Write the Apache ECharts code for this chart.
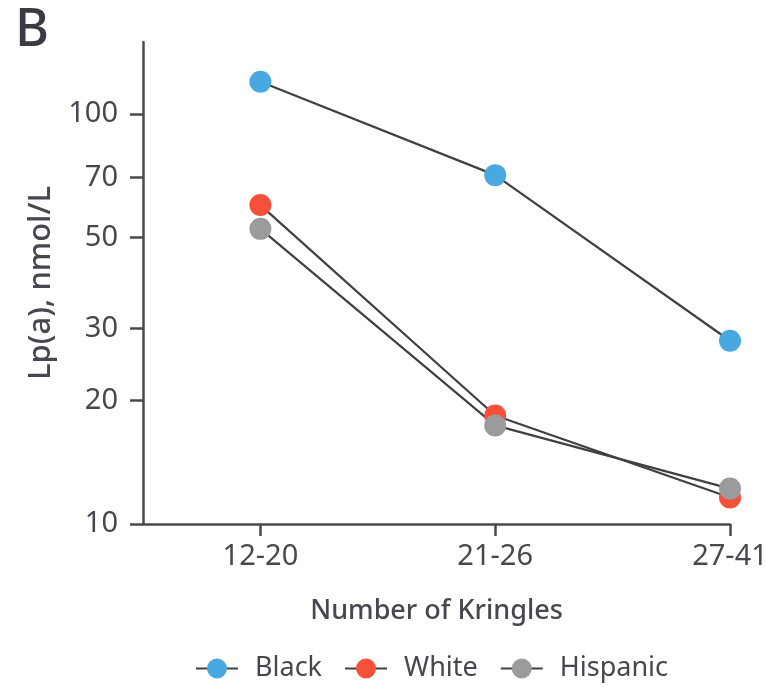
<!DOCTYPE html>
<html>
<head>
<meta charset="utf-8">
<script src="https://cdn.jsdelivr.net/npm/echarts@6/dist/echarts.min.js"></script>
<style>
  html, body { margin: 0; padding: 0; background: #fff; }
  #chart { width: 766px; height: 687px; }
</style>
</head>
<body>
<div id="chart"></div>
<script>
// Kringle-number groups on the x axis
const categories = ['12-20', '21-26', '27-41'];
// Median Lp(a), nmol/L, per group
const blackValues = [120, 71, 28];
const whiteValues = [60, 18.4, 11.6];
const hispanicValues = [52.5, 17.4, 12.2];
// Log-axis tick labels
const yTicks = [10, 20, 30, 50, 70, 100];

const FONT = 'Noto Sans';
const AXIS_COLOR = '#4a4a4a';
const TEXT_COLOR = '#474750';

function toPoints(values) {
  return values.map((v, i) => [i, v]);
}

function makeSeries(name, values, color) {
  return {
    name: name,
    type: 'line',
    data: toPoints(values),
    symbol: 'circle',
    symbolSize: 22,
    itemStyle: { color: color },
    lineStyle: { color: '#404040', width: 2.2 },
    emphasis: { disabled: true }
  };
}

const chart = echarts.init(document.getElementById('chart'));
chart.setOption({
  animation: false,
  textStyle: { fontFamily: FONT },
  title: {
    text: 'B',
    left: 10,
    top: 0,
    textStyle: { fontSize: 52, fontWeight: 500, color: '#3a3a44', fontFamily: FONT }
  },
  grid: { left: 143, top: 42, right: 36, bottom: 163, containLabel: false, outerBoundsMode: 'none' },
  xAxis: {
    type: 'value',
    min: -0.5,
    max: 2,
    splitLine: { show: false },
    axisLine: { lineStyle: { color: AXIS_COLOR, width: 2.5 } },
    axisTick: { customValues: [0, 1, 2], length: 12, lineStyle: { color: AXIS_COLOR, width: 2.5 } },
    axisLabel: {
      customValues: [0, 1, 2],
      formatter: v => categories[Math.round(v)],
      fontSize: 29, color: TEXT_COLOR, margin: 18, fontFamily: FONT
    },
    name: 'Number of Kringles',
    nameLocation: 'middle',
    nameGap: 74,
    nameTextStyle: { fontSize: 27, color: TEXT_COLOR, fontFamily: FONT, fontWeight: 500 }
  },
  yAxis: {
    type: 'log',
    logBase: 10,
    min: 10,
    max: 150,
    splitLine: { show: false },
    axisLine: { show: true, onZero: false, lineStyle: { color: AXIS_COLOR, width: 2.5 } },
    axisTick: { show: true, customValues: yTicks, length: 13, lineStyle: { color: AXIS_COLOR, width: 2.5 } },
    axisLabel: {
      customValues: yTicks,
      fontSize: 29, color: TEXT_COLOR, margin: 25, fontFamily: FONT
    },
    name: 'Lp(a), nmol/L',
    nameLocation: 'middle',
    nameGap: 86,
    nameTextStyle: { fontSize: 31, color: TEXT_COLOR, fontFamily: FONT, fontWeight: 500 }
  },
  legend: {
    bottom: 0,
    left: 190,
    itemWidth: 42,
    itemHeight: 25,
    itemGap: 22,
    textStyle: { fontSize: 27, color: TEXT_COLOR, fontFamily: FONT, padding: [0, 0, 0, 12] },
    data: ['Black', 'White', 'Hispanic']
  },
  series: [
    makeSeries('Black', blackValues, '#4aa8e0'),
    makeSeries('White', whiteValues, '#f5503a'),
    makeSeries('Hispanic', hispanicValues, '#9b9b9e')
  ]
});
</script>
</body>
</html>
